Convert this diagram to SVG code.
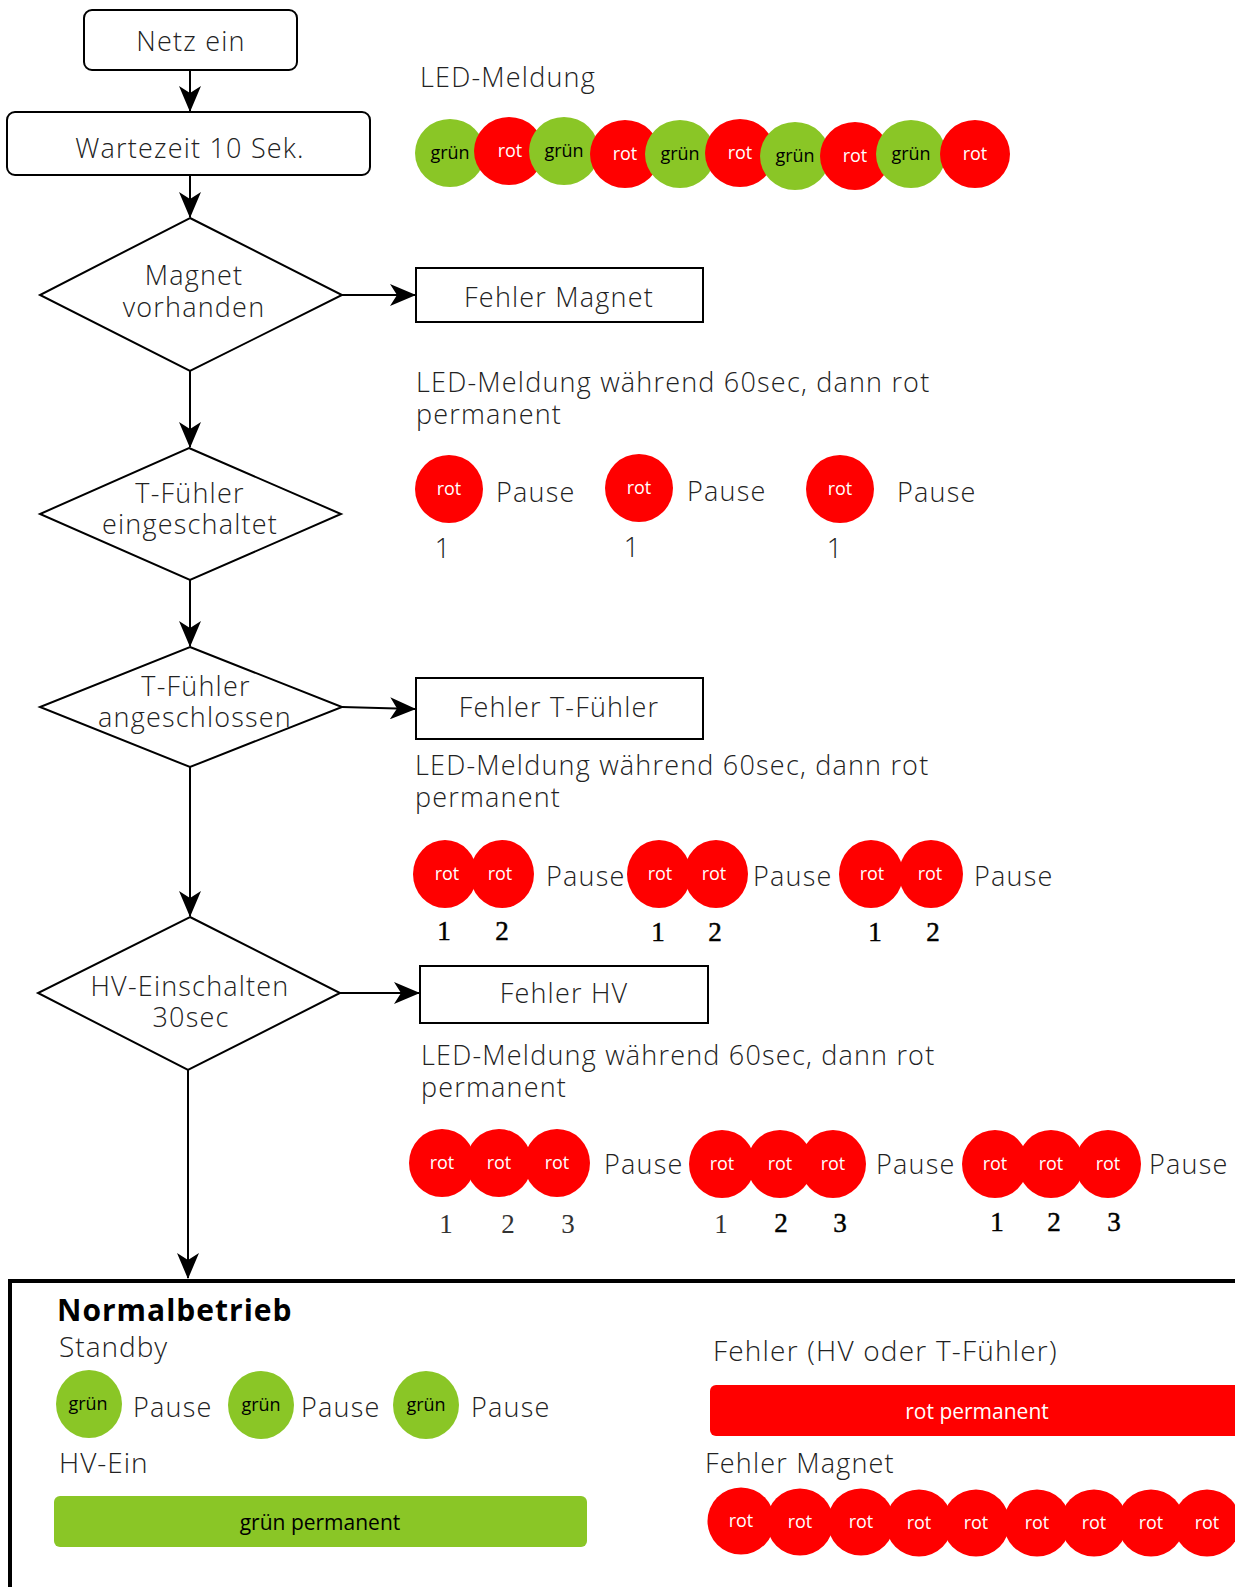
<svg xmlns="http://www.w3.org/2000/svg" width="1235" height="1587" viewBox="0 0 1235 1587">
<style>
.t{font-family:"Open Sans","Liberation Sans",sans-serif;font-weight:300;fill:#222;font-size:27px;letter-spacing:1.2px;}
.fb{font-size:28px;letter-spacing:1px;}
.lg{font-family:"Open Sans","Liberation Sans",sans-serif;font-size:18px;font-weight:500;fill:#000;text-anchor:middle;}
.lr{font-family:"Open Sans","Liberation Sans",sans-serif;font-size:18px;font-weight:400;fill:#fff;text-anchor:middle;}
.num{font-family:"Liberation Serif","Times New Roman",serif;font-size:27px;fill:#333;text-anchor:middle;}
.numb{font-family:"Liberation Serif","Times New Roman",serif;font-size:27px;fill:#000;stroke:#000;stroke-width:0.5;text-anchor:middle;}
.g{fill:#8AC626;}
.r{fill:#FF0000;}
.box{fill:#fff;stroke:#000;stroke-width:2;}
.ln{fill:none;stroke:#000;stroke-width:2;marker-end:url(#ah);}
.mid{text-anchor:middle;}
</style>
<defs>
<marker id="ah" markerUnits="userSpaceOnUse" markerWidth="26" markerHeight="22" refX="25" refY="11" orient="auto">
<path d="M0,0 L26,11 L0,22 L7,11 z" fill="#000"/>
</marker>
</defs>
<rect width="1235" height="1587" fill="#fff"/>

<g id="connectors">
<line class="ln" x1="190" y1="70" x2="190" y2="111"/>
<line class="ln" x1="190" y1="175" x2="190" y2="217"/>
<line class="ln" x1="342" y1="295" x2="415" y2="295"/>
<line class="ln" x1="190" y1="371" x2="190" y2="447"/>
<line class="ln" x1="190" y1="580" x2="190" y2="646"/>
<line class="ln" x1="342" y1="707" x2="415" y2="709"/>
<line class="ln" x1="190" y1="767" x2="190" y2="916"/>
<line class="ln" x1="340" y1="993" x2="419" y2="993"/>
<line class="ln" x1="188" y1="1070" x2="188" y2="1278"/>
</g>

<g id="netz-ein">
<rect class="box" x="84" y="10" width="213" height="60" rx="8"/>
<text class="t mid" x="191" y="51">Netz ein</text>
</g>
<g id="wartezeit">
<rect class="box" x="7" y="112" width="363" height="63" rx="8"/>
<text class="t mid" x="190" y="158">Wartezeit 10 Sek.</text>
</g>
<g id="magnet-vorhanden">
<polygon class="box" points="190,218 342,295 190,371 40,295"/>
<text class="t mid" x="194" y="285">Magnet</text>
<text class="t mid" x="194" y="317">vorhanden</text>
</g>
<g id="tfuehler-eingeschaltet">
<polygon class="box" points="189,448 341,514 190,580 40,514"/>
<text class="t mid" x="190" y="503">T-Fühler</text>
<text class="t mid" x="190" y="534">eingeschaltet</text>
</g>
<g id="tfuehler-angeschlossen">
<polygon class="box" points="190,647 342,707 190,767 40,707"/>
<text class="t mid" x="196" y="696">T-Fühler</text>
<text class="t mid" x="195" y="727">angeschlossen</text>
</g>
<g id="hv-einschalten">
<polygon class="box" points="190,917 340,993 188,1070 38,993"/>
<text class="t mid" x="190" y="996">HV-Einschalten</text>
<text class="t mid" x="191" y="1027">30sec</text>
</g>

<g id="fehler-magnet">
<rect class="box" x="416" y="268" width="287" height="54"/>
<text class="t mid" x="559" y="307">Fehler Magnet</text>
</g>
<g id="fehler-tfuehler">
<rect class="box" x="416" y="678" width="287" height="61"/>
<text class="t mid" x="559" y="717">Fehler T-Fühler</text>
</g>
<g id="fehler-hv">
<rect class="box" x="420" y="966" width="288" height="57"/>
<text class="t mid" x="564" y="1003">Fehler HV</text>
</g>

<g id="led-start">
<text class="t" x="420" y="87">LED-Meldung</text>
<ellipse class="g" cx="450" cy="153" rx="35" ry="34"/><text class="lg" x="450" y="159">grün</text>
<ellipse class="r" cx="509" cy="151" rx="35" ry="34"/><text class="lr" x="510" y="157">rot</text>
<ellipse class="g" cx="564" cy="151" rx="35" ry="34"/><text class="lg" x="564" y="157">grün</text>
<ellipse class="r" cx="625" cy="154" rx="35" ry="34"/><text class="lr" x="625" y="160">rot</text>
<ellipse class="g" cx="680" cy="154" rx="35" ry="34"/><text class="lg" x="680" y="160">grün</text>
<ellipse class="r" cx="740" cy="153" rx="35" ry="34"/><text class="lr" x="740" y="159">rot</text>
<ellipse class="g" cx="795" cy="156" rx="35" ry="34"/><text class="lg" x="795" y="162">grün</text>
<ellipse class="r" cx="855" cy="156" rx="35" ry="34"/><text class="lr" x="855" y="162">rot</text>
<ellipse class="g" cx="911" cy="154" rx="35" ry="34"/><text class="lg" x="911" y="160">grün</text>
<ellipse class="r" cx="975" cy="154" rx="35" ry="34"/><text class="lr" x="975" y="160">rot</text>
</g>

<g id="led-magnet">
<text class="t" x="416" y="392">LED-Meldung während 60sec, dann rot</text>
<text class="t" x="416" y="424">permanent</text>
<ellipse class="r" cx="449" cy="489" rx="34" ry="34"/><text class="lr" x="449" y="495">rot</text>
<text class="t" x="496" y="502">Pause</text>
<ellipse class="r" cx="639" cy="488" rx="34" ry="34"/><text class="lr" x="639" y="494">rot</text>
<text class="t" x="687" y="501">Pause</text>
<ellipse class="r" cx="840" cy="489" rx="34" ry="34"/><text class="lr" x="840" y="495">rot</text>
<text class="t" x="897" y="502">Pause</text>
<text class="t mid" x="443" y="558">1</text>
<text class="t mid" x="632" y="557">1</text>
<text class="t mid" x="835" y="558">1</text>
</g>

<g id="led-tfuehler">
<text class="t" x="415" y="775">LED-Meldung während 60sec, dann rot</text>
<text class="t" x="415" y="807">permanent</text>
<ellipse class="r" cx="445" cy="874" rx="32" ry="34"/><text class="lr" x="447" y="880">rot</text>
<ellipse class="r" cx="502" cy="874" rx="32" ry="34"/><text class="lr" x="500" y="880">rot</text>
<text class="t" x="546" y="886">Pause</text>
<ellipse class="r" cx="659" cy="874" rx="32" ry="34"/><text class="lr" x="660" y="880">rot</text>
<ellipse class="r" cx="716" cy="874" rx="32" ry="34"/><text class="lr" x="714" y="880">rot</text>
<text class="t" x="753" y="886">Pause</text>
<ellipse class="r" cx="871" cy="874" rx="32" ry="34"/><text class="lr" x="872" y="880">rot</text>
<ellipse class="r" cx="931" cy="874" rx="32" ry="34"/><text class="lr" x="930" y="880">rot</text>
<text class="t" x="974" y="886">Pause</text>
<text class="numb" x="444" y="940">1</text>
<text class="numb" x="502" y="940">2</text>
<text class="numb" x="658" y="941">1</text>
<text class="numb" x="715" y="941">2</text>
<text class="numb" x="875" y="941">1</text>
<text class="numb" x="933" y="941">2</text>
</g>

<g id="led-hv">
<text class="t" x="421" y="1065">LED-Meldung während 60sec, dann rot</text>
<text class="t" x="421" y="1097">permanent</text>
<ellipse class="r" cx="442" cy="1163" rx="33" ry="34"/><text class="lr" x="442" y="1169">rot</text>
<ellipse class="r" cx="499" cy="1163" rx="33" ry="34"/><text class="lr" x="499" y="1169">rot</text>
<ellipse class="r" cx="557" cy="1163" rx="33" ry="34"/><text class="lr" x="557" y="1169">rot</text>
<text class="t" x="604" y="1174">Pause</text>
<ellipse class="r" cx="722" cy="1164" rx="33" ry="34"/><text class="lr" x="722" y="1170">rot</text>
<ellipse class="r" cx="780" cy="1164" rx="33" ry="34"/><text class="lr" x="780" y="1170">rot</text>
<ellipse class="r" cx="833" cy="1164" rx="33" ry="34"/><text class="lr" x="833" y="1170">rot</text>
<text class="t" x="876" y="1174">Pause</text>
<ellipse class="r" cx="995" cy="1164" rx="33" ry="34"/><text class="lr" x="995" y="1170">rot</text>
<ellipse class="r" cx="1051" cy="1164" rx="33" ry="34"/><text class="lr" x="1051" y="1170">rot</text>
<ellipse class="r" cx="1108" cy="1164" rx="33" ry="34"/><text class="lr" x="1108" y="1170">rot</text>
<text class="t" x="1149" y="1174">Pause</text>
<text class="num" x="446" y="1233">1</text>
<text class="num" x="508" y="1233">2</text>
<text class="num" x="568" y="1233">3</text>
<text class="num" x="721" y="1233">1</text>
<text class="numb" x="781" y="1232">2</text>
<text class="numb" x="840" y="1232">3</text>
<text class="numb" x="997" y="1231">1</text>
<text class="numb" x="1054" y="1231">2</text>
<text class="numb" x="1114" y="1231">3</text>
</g>

<g id="normalbetrieb">
<rect x="10" y="1281" width="1300" height="400" fill="none" stroke="#000" stroke-width="4"/>
<text x="57" y="1321" style="font-family:'Open Sans','Liberation Sans',sans-serif;font-size:30px;font-weight:700;fill:#000;letter-spacing:1px">Normalbetrieb</text>
<text class="t fb" x="59" y="1357">Standby</text>
<ellipse class="g" cx="89" cy="1404" rx="33" ry="34"/><text class="lg" x="88" y="1410">grün</text>
<text class="t" x="133" y="1417">Pause</text>
<ellipse class="g" cx="261" cy="1405" rx="33" ry="34"/><text class="lg" x="261" y="1411">grün</text>
<text class="t" x="301" y="1417">Pause</text>
<ellipse class="g" cx="426" cy="1405" rx="33" ry="34"/><text class="lg" x="426" y="1411">grün</text>
<text class="t" x="471" y="1417">Pause</text>
<text class="t fb" x="59" y="1473">HV-Ein</text>
<rect class="g" x="54" y="1496" width="533" height="51" rx="6"/>
<text class="mid" x="320" y="1530" style="font-family:'Open Sans','Liberation Sans',sans-serif;font-size:21px;font-weight:500;fill:#000">grün permanent</text>
<text class="t fb" x="713" y="1361" style="letter-spacing:1.2px">Fehler (HV oder T-Fühler)</text>
<rect class="r" x="710" y="1385" width="540" height="51" rx="6"/>
<text class="mid" x="977" y="1419" style="font-family:'Open Sans','Liberation Sans',sans-serif;font-size:21px;font-weight:400;fill:#fff">rot permanent</text>
<text class="t" x="705" y="1473">Fehler Magnet</text>
<circle class="r" cx="741" cy="1521" r="33.5"/><text class="lr" x="741" y="1527">rot</text>
<circle class="r" cx="800" cy="1522" r="33.5"/><text class="lr" x="800" y="1528">rot</text>
<circle class="r" cx="861" cy="1522" r="33.5"/><text class="lr" x="861" y="1528">rot</text>
<circle class="r" cx="919" cy="1523" r="33.5"/><text class="lr" x="919" y="1529">rot</text>
<circle class="r" cx="976" cy="1523" r="33.5"/><text class="lr" x="976" y="1529">rot</text>
<circle class="r" cx="1037" cy="1523" r="33.5"/><text class="lr" x="1037" y="1529">rot</text>
<circle class="r" cx="1094" cy="1523" r="33.5"/><text class="lr" x="1094" y="1529">rot</text>
<circle class="r" cx="1151" cy="1523" r="33.5"/><text class="lr" x="1151" y="1529">rot</text>
<circle class="r" cx="1207" cy="1523" r="33.5"/><text class="lr" x="1207" y="1529">rot</text>
</g>
</svg>
